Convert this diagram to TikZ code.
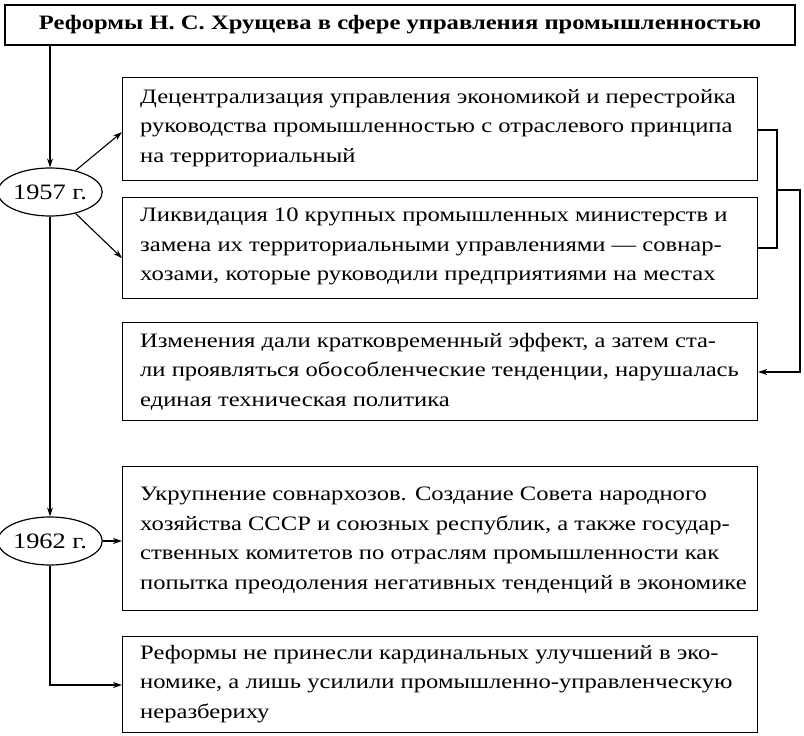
\documentclass[tikz,border=0pt]{standalone}
\usepackage{fontspec}
\setmainfont{Liberation Serif}[FakeStretch=1.2]
\usetikzlibrary{arrows.meta,shapes.geometric}
\begin{document}
\begin{tikzpicture}[x=1pt,y=-1pt,
  box/.style={draw,line width=1.2pt,minimum width=635pt,anchor=north west,inner sep=0pt},
  tx/.style={anchor=north west,align=left,inner sep=0pt,font=\fontsize{20.5}{29.5}\selectfont},
  yr/.style={draw,ellipse,line width=1.2pt,minimum width=96pt,minimum height=48pt,inner sep=0pt,font=\fontsize{22}{24}\selectfont},
  ln/.style={line width=1.1pt},
  ar/.style={ln,-{Stealth[length=9pt,width=6pt]}}]
\useasboundingbox (0,0) rectangle (804,736);
\node[draw,line width=1.4pt,minimum width=790pt,minimum height=40pt,font=\bfseries\fontsize{20.5}{24}\selectfont] (t) at (400,25) {Реформы Н. С. Хрущева в сфере управления промышленностью};
\node[box,minimum height=103pt] (b1) at (122,77) {};
\node[tx] at (140,89) {Децентрализация управления экономикой и перестройка\\руководства промышленностью с отраслевого принципа\\на территориальный};
\node[box,minimum height=101pt] (b2) at (122,197) {};
\node[tx] at (140,208) {Ликвидация 10 крупных промышленных министерств и\\замена их территориальными управлениями — совнар-\\хозами, которые руководили предприятиями на местах};
\node[box,minimum height=98pt] (b3) at (122,322) {};
\node[tx] at (140,333) {Изменения дали кратковременный эффект, а затем ста-\\ли проявляться обособленческие тенденции, нарушалась\\единая техническая политика};
\node[box,minimum height=144pt] (b4) at (122,466) {};
\node[tx] at (140,487) {Укрупнение совнархозов. Создание Совета народного\\хозяйства СССР и союзных республик, а также государ-\\ственных комитетов по отраслям промышленности как\\попытка преодоления негативных тенденций в экономике};
\node[box,minimum height=96pt] (b5) at (122,636) {};
\node[tx] at (140,645) {Реформы не принесли кардинальных улучшений в эко-\\номике, а лишь усилили промышленно-управленческую\\неразбериху};
\node[yr] (y1) at (50,192) {1957 г.};
\node[yr] (y2) at (50,541) {1962 г.};
\draw[ar] (t.south -| y1.north) -- (y1.north);
\draw[ar] (y1.south) -- (y2.north);
\coordinate (c5) at (50,685);
\draw[ar] (y2.south) -- (c5) -- (c5 -| b5.west);
\draw[ar] (y1.40) -- ([yshift=-3pt]b1.west);
\draw[ar] (y1.-40) -- ([yshift=-10pt]b2.west);
\draw[ar] (y2.east) -- (y2.east -| b4.west);
\coordinate (r1) at (777,130);
\coordinate (r2) at (777,248);
\coordinate (m) at (777,190);
\coordinate (m2) at (800,190);
\coordinate (m3) at (800,372);
\draw[ln] (r1 -| b1.east) -- (r1) -- (r2) -- (r2 -| b2.east);
\draw[ar] (m) -- (m2) -- (m3) -- (m3 -| b3.east);
\end{tikzpicture}
\end{document}
